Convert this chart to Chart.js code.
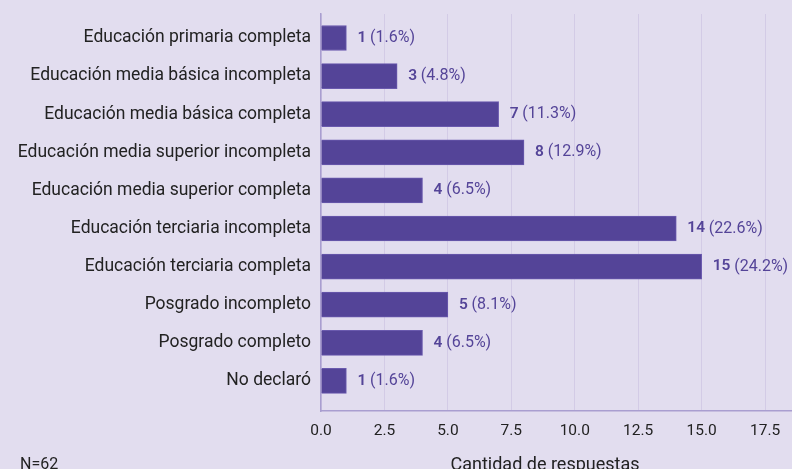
<!DOCTYPE html>
<html>
<head>
<meta charset="utf-8">
<script src="https://cdn.jsdelivr.net/npm/chart.js@4.4.1/dist/chart.umd.min.js"></script>
<style>
    html, body { margin: 0; padding: 0; background: #e2ddef; }
    #wrap { width: 792px; height: 469px; position: relative; }
</style>
</head>
<body>
<div id="wrap"><canvas id="chart" width="792" height="469"></canvas></div>
<script>
// Data
const categories = [
    "Educación primaria completa",
    "Educación media básica incompleta",
    "Educación media básica completa",
    "Educación media superior incompleta",
    "Educación media superior completa",
    "Educación terciaria incompleta",
    "Educación terciaria completa",
    "Posgrado incompleto",
    "Posgrado completo",
    "No declaró"
];
const counts = [1, 3, 7, 8, 4, 14, 15, 5, 4, 1];
const percents = ["1.6%", "4.8%", "11.3%", "12.9%", "6.5%", "22.6%", "24.2%", "8.1%", "6.5%", "1.6%"];
const xTicks = [0, 2.5, 5, 7.5, 10, 12.5, 15, 17.5];
const nLabel = "N=62";
const xTitle = "Cantidad de respuestas";

const PURPLE = "#544498";
const FONT = "Roboto, 'Liberation Sans', sans-serif";

// Value labels + footer text
const extras = {
    id: "extras",
    afterDatasetsDraw(chart) {
        const ctx = chart.ctx;
        const meta = chart.getDatasetMeta(0);
        ctx.save();
        ctx.textBaseline = "middle";
        meta.data.forEach((bar, i) => {
            let x = bar.x + 11;
            ctx.fillStyle = PURPLE;
            ctx.font = "600 15.5px " + FONT;
            const c = String(counts[i]);
            ctx.fillText(c, x, bar.y);
            x += ctx.measureText(c + " ").width;
            ctx.font = "400 16px " + FONT;
            ctx.fillText("(" + percents[i] + ")", x, bar.y);
        });
        ctx.fillStyle = "#222";
        ctx.font = "400 16px " + FONT;
        ctx.fillText(nLabel, 20, 465);
        ctx.textAlign = "center";
        ctx.font = "400 18px " + FONT;
        ctx.fillText(xTitle, 545, 465);
        ctx.restore();
    }
};

new Chart(document.getElementById("chart"), {
    type: "bar",
    data: {
        datasets: [{
            data: counts.map((v, i) => ({ x: v, y: i })),
            backgroundColor: PURPLE,
            borderColor: "#6a5aae",
            borderWidth: 1,
            barThickness: 25
        }]
    },
    options: {
        indexAxis: "y",
        responsive: false,
        animation: false,
        layout: { padding: { top: 14, left: 0, right: 0, bottom: 0 } },
        plugins: { legend: { display: false }, tooltip: { enabled: false } },
        scales: {
            x: {
                type: "linear",
                min: 0,
                max: 18.56,
                afterBuildTicks: s => { s.ticks = xTicks.map(v => ({ value: v })); },
                afterFit: s => { s.height = 58; s.paddingLeft = 0; s.paddingRight = 0; },
                grid: { color: "#d3cbe6", drawTicks: false },
                border: { color: "#a99ed0", width: 1.5 },
                ticks: {
                    padding: 11,
                    color: "#222",
                    font: { family: FONT, size: 15.5 },
                    callback: v => v.toFixed(1)
                }
            },
            y: {
                type: "linear",
                offset: false,
                reverse: true,
                min: -0.63,
                max: 9.79,
                afterBuildTicks: s => { s.ticks = categories.map((_, i) => ({ value: i })); },
                afterFit: s => { s.width = 321; s.paddingTop = 0; s.paddingBottom = 0; },
                grid: { display: false, drawTicks: false, offset: false },
                border: { color: "#a99ed0", width: 1.5 },
                ticks: {
                    padding: 10,
                    color: "#222",
                    font: { family: FONT, size: 17.5 },
                    callback: v => categories[v]
                }
            }
        }
    },
    plugins: [extras]
});
</script>
</body>
</html>
